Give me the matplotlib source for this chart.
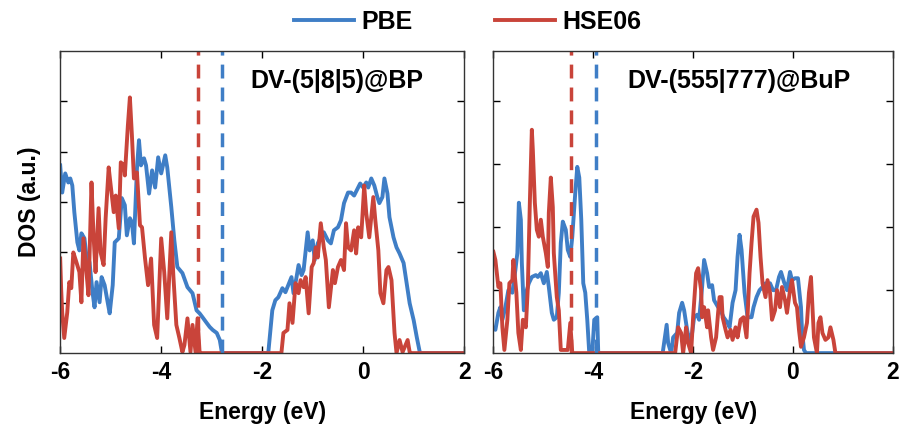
import matplotlib
matplotlib.use("Agg")
import matplotlib.pyplot as plt

plt.rcParams['font.family'] = ['Liberation Sans', 'DejaVu Sans']
plt.rcParams['font.weight'] = 'bold'
plt.rcParams['axes.unicode_minus'] = False

# Left panel: DV-(5|8|5)@BP
bp_pbe_e = [-6.00, -5.96, -5.90, -5.84, -5.80, -5.76, -5.72, -5.66, -5.62, -5.58, -5.52, -5.46,
            -5.42, -5.36, -5.32, -5.28, -5.22, -5.18, -5.12, -5.06, -5.02, -4.96, -4.92, -4.84,
            -4.78, -4.72, -4.68, -4.62, -4.58, -4.54, -4.48, -4.44, -4.40, -4.34, -4.30, -4.24,
            -4.18, -4.12, -4.06, -4.00, -3.92, -3.88, -3.80, -3.74, -3.68, -3.58, -3.48, -3.38,
            -3.30, -3.24, -3.18, -3.10, -3.04, -2.98, -2.90, -2.84, -2.80, -2.78,
            -1.88, -1.80, -1.74, -1.68, -1.60, -1.54, -1.50, -1.42, -1.38, -1.32, -1.28, -1.22,
            -1.18, -1.10, -1.06, -1.00, -0.96, -0.90, -0.84, -0.78, -0.70, -0.64, -0.58, -0.50,
            -0.44, -0.38, -0.30, -0.24, -0.18, -0.10, -0.06, 0.00, 0.06, 0.10, 0.16, 0.22, 0.28,
            0.32, 0.38, 0.42, 0.48, 0.52, 0.60, 0.66, 0.72, 0.80, 0.86, 0.92, 1.00, 1.06, 1.12,
            1.14, 2.00]
bp_pbe_d = [3.73, 3.19, 3.57, 3.39, 3.47, 3.33, 2.80, 2.20, 2.04, 2.38, 2.28, 1.75,
            1.81, 1.21, 0.91, 1.41, 1.01, 1.51, 1.35, 1.01, 0.79, 1.35, 2.20, 2.28,
            3.08, 2.94, 2.34, 2.68, 2.60, 2.18, 3.67, 4.23, 3.73, 3.87, 3.73, 3.17,
            3.63, 3.29, 3.89, 3.57, 3.93, 3.69, 2.90, 2.24, 1.71, 1.59, 1.31, 1.19,
            0.85, 0.79, 0.71, 0.60, 0.52, 0.46, 0.40, 0.26, 0.02, 0.00,
            0.00, 0.85, 1.05, 1.11, 1.29, 1.21, 1.31, 1.51, 1.19, 1.51, 1.75, 1.55,
            1.65, 2.40, 2.04, 2.24, 1.85, 2.18, 2.30, 2.40, 2.24, 2.18, 2.44, 2.50,
            2.64, 2.98, 3.19, 3.19, 3.13, 3.29, 3.37, 3.29, 3.39, 3.29, 3.47, 3.33, 3.10,
            2.98, 3.10, 3.47, 3.17, 2.70, 2.30, 2.10, 1.98, 1.79, 1.39, 0.99, 0.65, 0.32, 0.02,
            0.00, 0.00]

bp_hse_e = [-6.00, -5.98, -5.96, -5.92, -5.86, -5.82, -5.78, -5.74, -5.68, -5.62, -5.58, -5.54,
            -5.48, -5.44, -5.38, -5.34, -5.30, -5.24, -5.20, -5.14, -5.10, -5.04, -5.00, -4.94,
            -4.90, -4.84, -4.80, -4.74, -4.72, -4.66, -4.62, -4.58, -4.54, -4.48, -4.42, -4.38,
            -4.32, -4.26, -4.20, -4.14, -4.08, -4.00, -3.94, -3.88, -3.80, -3.76, -3.70, -3.64,
            -3.58, -3.54, -3.48, -3.42, -3.38, -3.32, -3.28, -3.24, -3.22,
            -1.62, -1.58, -1.50, -1.46, -1.40, -1.34, -1.28, -1.24, -1.18, -1.14, -1.08, -1.02,
            -0.98, -0.94, -0.90, -0.84, -0.78, -0.74, -0.68, -0.60, -0.56, -0.50, -0.44, -0.38,
            -0.34, -0.30, -0.24, -0.18, -0.14, -0.10, -0.04, 0.02, 0.06, 0.12, 0.20, 0.24, 0.30,
            0.34, 0.40, 0.46, 0.50, 0.56, 0.62, 0.66, 0.72, 0.78, 0.88, 0.92, 0.94, 2.00]
bp_hse_d = [1.88, 1.25, 0.81, 0.30, 0.81, 1.41, 1.29, 2.00, 1.81, 1.61, 1.01, 2.28,
            1.61, 1.15, 3.39, 2.34, 1.61, 2.88, 2.00, 1.75, 2.68, 3.69, 3.33, 2.80,
            3.13, 2.48, 3.79, 3.73, 3.53, 4.52, 5.08, 4.33, 3.47, 3.59, 2.54, 2.50,
            1.88, 1.35, 1.88, 0.56, 0.30, 2.28, 1.61, 0.69, 2.40, 1.55, 0.56, 0.30,
            0.02, 0.16, 0.69, 0.02, 0.56, 0.02, 0.69, 0.02, 0.00,
            0.00, 0.40, 0.46, 0.99, 0.60, 1.39, 1.19, 1.45, 1.31, 1.51, 0.79, 1.71,
            1.79, 2.10, 1.90, 2.58, 2.10, 1.85, 0.91, 1.65, 1.39, 1.71, 1.85, 1.65,
            2.58, 2.10, 2.04, 2.44, 1.98, 2.50, 2.30, 3.33, 2.78, 2.30, 3.10, 2.64, 2.04,
            1.19, 0.99, 1.65, 1.71, 1.45, 0.40, 0.00, 0.26, 0.02, 0.26, 0.02, 0.00, 0.00]

# Right panel: DV-(555|777)@BuP
bup_pbe_e = [-6.00, -5.96, -5.90, -5.86, -5.82, -5.76, -5.70, -5.62, -5.56, -5.52, -5.49, -5.45,
             -5.43, -5.39, -5.33, -5.29, -5.23, -5.15, -5.11, -5.05, -4.99, -4.93, -4.89, -4.83,
             -4.79, -4.73, -4.69, -4.65, -4.61, -4.55, -4.51, -4.46, -4.42, -4.36, -4.32, -4.28,
             -4.24, -4.20, -4.16, -4.12, -4.08, -4.02, -3.98, -3.92, -3.90,
             -2.61, -2.53, -2.50, -2.44, -2.40, -2.32, -2.28, -2.22, -2.18, -2.12, -2.08, -2.02,
             -1.98, -1.92, -1.88, -1.82, -1.78, -1.72, -1.68, -1.62, -1.58, -1.50, -1.45, -1.39,
             -1.31, -1.27, -1.21, -1.15, -1.11, -1.07, -1.03, -0.97, -0.91, -0.83, -0.79, -0.73,
             -0.67, -0.61, -0.55, -0.51, -0.46, -0.40, -0.34, -0.28, -0.24, -0.18, -0.12, -0.06,
             -0.02, 0.04, 0.10, 0.16, 0.18, 0.22, 0.26, 2.00]
bup_pbe_d = [0.40, 0.37, 0.64, 0.73, 0.53, 0.73, 1.00, 0.96, 1.32, 1.59, 2.39, 2.12,
             1.43, 0.68, 1.00, 1.11, 1.21, 1.24, 1.21, 1.27, 1.11, 1.29, 1.05, 0.64,
             0.53, 0.57, 0.96, 1.75, 2.09, 1.96, 1.64, 1.53, 1.85, 2.55, 2.96, 2.79,
             2.12, 1.11, 0.96, 0.53, 0.00, 0.00, 0.53, 0.57, 0.00,
             0.00, 0.45, 0.16, 0.00, 0.25, 0.32, 0.64, 0.80, 0.68, 0.37, 0.21, 0.32,
             0.57, 0.61, 0.53, 1.05, 1.48, 1.27, 1.05, 1.08, 0.84, 0.73, 0.68, 0.57,
             0.48, 0.41, 0.80, 1.00, 1.53, 1.88, 1.64, 0.96, 0.57, 0.57, 0.73, 0.89,
             1.00, 1.05, 1.11, 1.05, 1.11, 1.00, 1.00, 1.21, 1.29, 1.13, 1.00, 1.29,
             1.16, 1.19, 1.19, 0.73, 0.37, 0.05, 0.00, 0.00]

bup_hse_e = [-6.00, -5.96, -5.90, -5.86, -5.82, -5.78, -5.72, -5.68, -5.62, -5.60, -5.54, -5.50,
             -5.45, -5.41, -5.35, -5.31, -5.27, -5.23, -5.21, -5.17, -5.13, -5.09, -5.05, -5.01,
             -4.95, -4.91, -4.89, -4.85, -4.81, -4.79, -4.73, -4.69, -4.65, -4.59, -4.51, -4.46,
             -4.42,
             -2.36, -2.30, -2.24, -2.20, -2.14, -2.10, -2.04, -2.00, -1.94, -1.90, -1.84, -1.82,
             -1.78, -1.72, -1.70, -1.64, -1.60, -1.54, -1.50, -1.47, -1.43, -1.41, -1.35, -1.31,
             -1.25, -1.21, -1.15, -1.11, -1.05, -0.99, -0.93, -0.87, -0.83, -0.79, -0.73, -0.69,
             -0.65, -0.61, -0.55, -0.51, -0.46, -0.42, -0.36, -0.32, -0.26, -0.22, -0.16, -0.12,
             -0.06, -0.02, 0.04, 0.08, 0.12, 0.16, 0.22, 0.28, 0.32, 0.36, 0.42, 0.48, 0.51,
             0.55, 0.59, 0.65, 0.71, 0.75, 0.81, 0.85, 2.00]
bup_hse_d = [1.61, 1.48, 1.05, 1.11, 0.41, 0.05, 0.53, 1.11, 1.16, 1.48, 0.96, 0.32,
             0.05, 0.53, 0.41, 1.05, 2.39, 3.55, 3.23, 2.39, 1.96, 1.85, 2.12, 1.85,
             1.59, 1.37, 2.23, 2.79, 2.32, 1.59, 0.89, 0.68, 0.05, 0.05, 0.05, 0.48,
             0.00,
             0.00, 0.41, 0.32, 0.00, 0.41, 0.16, 0.00, 0.57, 1.27, 1.35, 1.00, 0.57,
             0.73, 0.41, 0.68, 0.25, 0.05, 0.25, 0.64, 0.89, 0.89, 0.57, 0.37, 0.25,
             0.37, 0.21, 0.41, 0.25, 0.53, 0.57, 0.25, 1.27, 1.75, 2.17, 2.28, 2.07,
             1.53, 1.11, 0.89, 1.16, 0.96, 0.53, 0.68, 1.00, 0.73, 1.05, 0.84, 0.64,
             1.00, 1.16, 0.80, 0.73, 0.37, 0.10, 0.25, 0.48, 0.96, 1.21, 0.25, 0.00, 0.48,
             0.57, 0.32, 0.21, 0.25, 0.41, 0.21, 0.00, 0.00]

# Fermi levels (dashed)
bp_fermi_pbe, bp_fermi_hse = -2.80, -3.28
bup_fermi_pbe, bup_fermi_hse = -3.94, -4.44

panels = [
    ("DV-(5|8|5)@BP", bp_pbe_e, bp_pbe_d, bp_hse_e, bp_hse_d, bp_fermi_pbe, bp_fermi_hse, 6.0, [1, 2, 3, 4, 5], 0.47),
    ("DV-(555|777)@BuP", bup_pbe_e, bup_pbe_d, bup_hse_e, bup_hse_d, bup_fermi_pbe, bup_fermi_hse, 4.8, [1, 2, 3, 4], 0.335),
]

blue = '#3F7EC6'
red = '#C9443A'

fig = plt.figure(figsize=(9.12, 4.37), dpi=100)
ax_pos = [[0.066, 0.192, 0.443, 0.691], [0.541, 0.192, 0.438, 0.691]]

for pos, (title, pe, pd, he, hd, fp, fh, ytop, yt, tx) in zip(ax_pos, panels):
    ax = fig.add_axes(pos)
    ax.plot(pe, pd, color=blue, lw=2.8, label='PBE', solid_joinstyle='round')
    ax.plot(he, hd, color=red, lw=2.8, label='HSE06', solid_joinstyle='round')
    ax.axvline(fh, color=red, lw=2.5, ls=(0, (4, 2.6)))
    ax.axvline(fp, color=blue, lw=2.5, ls=(0, (4, 2.6)))
    ax.set_xlim(-6, 2)
    ax.set_ylim(0, ytop)
    ax.set_xticks([-6, -4, -2, 0, 2])
    ax.set_yticks(yt)
    ax.set_yticklabels([])
    ax.tick_params(direction='in', top=True, right=True, length=5, width=1,
                   labelsize=16.5, pad=6)
    ax.set_xlabel('Energy (eV)', fontsize=16.5, fontweight='bold', labelpad=12)
    ax.text(tx, 0.9, title, transform=ax.transAxes, fontsize=18, fontweight='bold',
            ha='left', va='center')
    for s in ax.spines.values():
        s.set_linewidth(1.0)
        s.set_color('#333333')
    if title.endswith('BP'):
        ax.set_ylabel('DOS (a.u.)', fontsize=16.5, fontweight='bold', labelpad=8)
        handles, labels = ax.get_legend_handles_labels()

fig.legend(handles, labels, loc='center', bbox_to_anchor=(0.513, 0.95), ncol=2,
           frameon=False, fontsize=18, handlelength=2.4, columnspacing=3.3,
           handletextpad=0.3)

fig.savefig('out.png', dpi=100)
